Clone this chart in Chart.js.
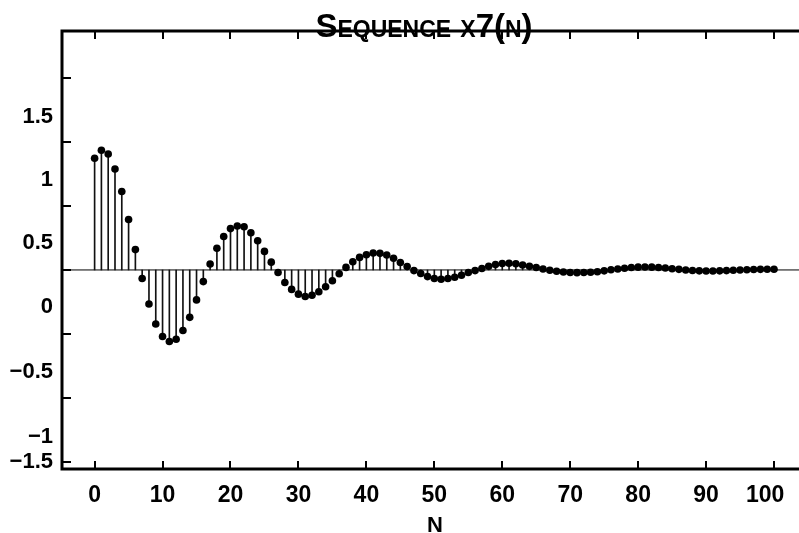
<!DOCTYPE html>
<html>
<head>
<meta charset="utf-8">
<script src="https://cdn.jsdelivr.net/npm/chart.js@4.4.1/dist/chart.umd.min.js"></script>
<style>
  html, body { margin: 0; padding: 0; background: #fff; overflow: hidden; }
  #wrap { width: 799px; height: 533px; overflow: hidden; }
</style>
</head>
<body>
<div id="wrap"><canvas id="c" width="848" height="533"></canvas></div>
<script>
// ---- data ----
const titleText = 'Sequence x7(n)';
const xTitle = 'n';
const values = [
  0.873, 0.935, 0.906, 0.789, 0.613, 0.394, 0.159, -0.067, -0.266, -0.422,
  -0.520, -0.559, -0.541, -0.473, -0.370, -0.234, -0.091, 0.047, 0.170, 0.261,
  0.323, 0.344, 0.338, 0.291, 0.228, 0.145, 0.061, -0.020, -0.098, -0.152,
  -0.189, -0.207, -0.197, -0.170, -0.131, -0.084, -0.030, 0.020, 0.064, 0.098,
  0.119, 0.132, 0.130, 0.117, 0.091, 0.058, 0.027, -0.005, -0.028, -0.052,
  -0.067, -0.073, -0.067, -0.057, -0.041, -0.020, -0.005, 0.011, 0.029, 0.042,
  0.050, 0.053, 0.049, 0.039, 0.029, 0.019, 0.008, -0.002, -0.010, -0.016,
  -0.020, -0.021, -0.020, -0.018, -0.014, -0.007, 0.002, 0.008, 0.014, 0.019,
  0.022, 0.023, 0.022, 0.019, 0.015, 0.010, 0.005, 0.000, -0.004, -0.007,
  -0.008, -0.008, -0.007, -0.005, -0.002, 0.000, 0.002, 0.004, 0.005, 0.006,
  0.006
];
const xTickValues = [0, 10, 20, 30, 40, 50, 60, 70, 80, 90, 100];
const xLabelAt = [0, 10, 20, 30, 40, 50, 60, 70, 80, 90, 98.7];
const yTickMarks = [-1.5, -1, -0.5, 0, 0.5, 1, 1.5];
const yLabelTexts = ['1.5', '1', '0.5', '0', '\u22120.5', '\u22121', '\u22121.5'];
const yLabelAt = [1.195, 0.703, 0.211, -0.289, -0.797, -1.305, -1.5];

// ---- build ----
const points = values.map((v, i) => ({ x: i, y: v }));
const FONT = "'Liberation Sans', Arial, Helvetica, sans-serif";

const framePlugin = {
  id: 'frame',
  beforeDatasetsDraw(chart) {
    const { ctx, chartArea: a, scales } = chart;
    const y0 = scales.y.getPixelForValue(0);
    ctx.save();
    ctx.strokeStyle = '#000';
    ctx.lineWidth = 1;
    ctx.beginPath();
    ctx.moveTo(a.left, y0);
    ctx.lineTo(a.right, y0);
    ctx.stroke();
    ctx.restore();
  },
  afterDatasetsDraw(chart) {
    const { ctx, chartArea: a, scales } = chart;
    ctx.save();
    ctx.strokeStyle = '#000';
    ctx.lineWidth = 2;
    ctx.beginPath();
    xTickValues.forEach(v => {
      const px = Math.round(scales.x.getPixelForValue(v));
      ctx.moveTo(px, a.bottom); ctx.lineTo(px, a.bottom - 8);
      ctx.moveTo(px, a.top); ctx.lineTo(px, a.top + 8);
    });
    yTickMarks.forEach(v => {
      const py = Math.round(scales.y.getPixelForValue(v));
      ctx.moveTo(a.left, py); ctx.lineTo(a.left + 9, py);
    });
    ctx.stroke();
    ctx.lineWidth = 3;
    ctx.beginPath();
    ctx.moveTo(a.right, a.top);
    ctx.lineTo(a.left, a.top);
    ctx.lineTo(a.left, a.bottom);
    ctx.lineTo(a.right, a.bottom);
    ctx.stroke();
    ctx.restore();
  }
};

new Chart(document.getElementById('c'), {
  data: {
    datasets: [
      {
        type: 'scatter',
        data: points,
        pointRadius: 3.8,
        pointHoverRadius: 3.8,
        pointBackgroundColor: '#000',
        pointBorderWidth: 0,
        order: 0
      },
      {
        type: 'bar',
        data: points,
        backgroundColor: '#111',
        barThickness: 1,
        order: 1
      }
    ]
  },
  options: {
    responsive: false,
    animation: false,
    events: [],
    layout: { padding: 0 },
    plugins: {
      legend: { display: false },
      tooltip: { enabled: false },
      title: {
        display: true,
        text: titleText,
        color: '#000',
        font: { family: FONT, size: 33, weight: 'small-caps bold', lineHeight: 1 },
        padding: { top: 11, bottom: -13 }
      }
    },
    scales: {
      x: {
        type: 'linear',
        position: 'bottom',
        offset: false,
        min: -4.8,
        max: 105,
        afterBuildTicks: s => { s.ticks = xLabelAt.map(v => ({ value: v })); },
        afterFit: s => { s.height = 64; },
        grid: { display: false, drawTicks: false, offset: false },
        border: { display: false },
        ticks: {
          color: '#000',
          padding: 13,
          maxRotation: 0,
          autoSkip: false,
          callback: (v, i) => String(xTickValues[i]),
          font: { family: FONT, size: 23, weight: 'bold', lineHeight: 1.2 }
        },
        title: {
          display: true,
          text: xTitle,
          color: '#000',
          padding: { top: 0, bottom: 0 },
          font: { family: FONT, size: 31, weight: 'small-caps bold', lineHeight: 0.6 }
        }
      },
      y: {
        type: 'linear',
        position: 'left',
        min: -1.555,
        max: 1.867,
        afterBuildTicks: s => { s.ticks = yLabelAt.map(v => ({ value: v })); },
        afterFit: s => { s.width = 62; },
        grid: { display: false, drawTicks: false },
        border: { display: false },
        ticks: {
          color: '#000',
          padding: 9,
          autoSkip: false,
          callback: (v, i) => yLabelTexts[i],
          font: { family: FONT, size: 22, weight: 'bold', lineHeight: 1.2 }
        }
      },
      yR: {
        type: 'linear',
        position: 'right',
        display: true,
        afterFit: s => { s.width = 40; },
        grid: { display: false, drawTicks: false },
        border: { display: false },
        ticks: { display: false }
      }
    }
  },
  plugins: [framePlugin]
});
</script>
</body>
</html>
